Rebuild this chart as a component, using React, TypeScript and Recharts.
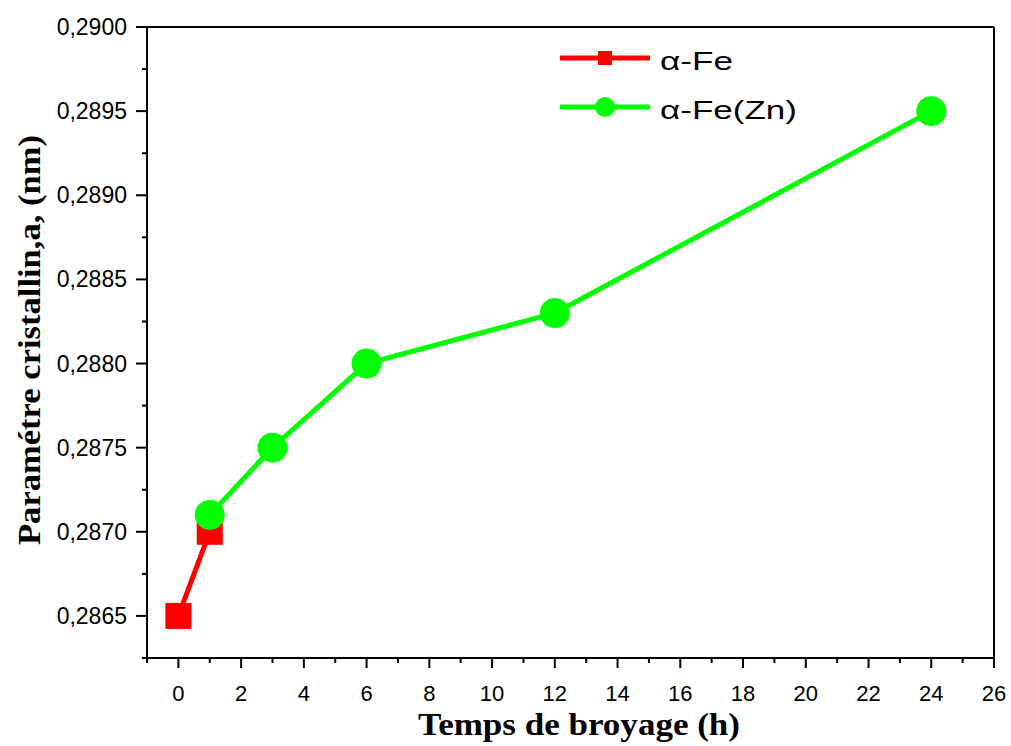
import { LineChart, Line, XAxis, YAxis, ReferenceLine } from 'recharts';

// α-Fe series
const feTimes = [0, 1];
const feValues = [0.2865, 0.287];

// α-Fe(Zn) series
const feZnTimes = [1, 3, 6, 12, 24];
const feZnValues = [0.2871, 0.2875, 0.288, 0.2883, 0.2895];

// axis ticks (majors at even index, minors at odd)
const xTicks = [-1, 0, 1, 2, 3, 4, 5, 6, 7, 8, 9, 10, 11, 12, 13, 14, 15, 16, 17, 18, 19, 20, 21, 22, 23, 24, 25, 26];
const yTicks = [0.28625, 0.2865, 0.28675, 0.287, 0.28725, 0.2875, 0.28775, 0.288, 0.28825, 0.2885, 0.28875, 0.289, 0.28925, 0.2895, 0.28975, 0.29];

const feData = feTimes.map((t, i) => ({ t, v: feValues[i] }));
const feZnData = feZnTimes.map((t, i) => ({ t, v: feZnValues[i] }));

const TICK_FONT = '"Liberation Sans", Arial, sans-serif';
const TITLE_FONT = '"Liberation Serif", "Times New Roman", serif';

const XTick = (props: any) => {
    const { x, y, payload } = props;
    const major = Math.round(payload.value) % 2 === 0;
    return (
        <g>
            <line x1={x} x2={x} y1={y} y2={y + (major ? 10 : 5)} stroke="#000" strokeWidth={2} />
            {major && (
                <text x={x} y={y + 43} textAnchor="middle" fontSize={22} fontFamily={TICK_FONT} fill="#000">
                    {payload.value}
                </text>
            )}
        </g>
    );
};

const YTick = (props: any) => {
    const { x, y, payload, index } = props;
    const major = index % 2 === 1;
    return (
        <g>
            <line x1={x} x2={x - (major ? 11 : 5)} y1={y} y2={y} stroke="#000" strokeWidth={2} />
            {major && (
                <text x={x - 20} y={y + 8} textAnchor="end" fontSize={23} fontFamily={TICK_FONT} fill="#000">
                    {payload.value.toFixed(4).replace('.', ',')}
                </text>
            )}
        </g>
    );
};

const Square = (props: any) => {
    const { cx, cy } = props;
    if (cx == null || cy == null) return null;
    return <rect x={cx - 13} y={cy - 13} width={26} height={26} fill="#ff0000" />;
};

const Circle = (props: any) => {
    const { cx, cy } = props;
    if (cx == null || cy == null) return null;
    return <circle cx={cx} cy={cy} r={15} fill="#00ff00" />;
};

// legend and axis titles, drawn over the chart
const Overlay = () => (
    <svg width={1011} height={746} style={{ position: 'absolute', left: 0, top: 0, pointerEvents: 'none' }}>
        <g transform="translate(560,40)">
            <line x1={0} x2={90} y1={18} y2={18} stroke="#ff0000" strokeWidth={5} />
            <rect x={38} y={11} width={14} height={14} fill="#ff0000" />
            <text x={100} y={30} fontSize={26} textLength={73} lengthAdjust="spacingAndGlyphs" fontFamily={TICK_FONT} fill="#000">α-Fe</text>
            <line x1={0} x2={90} y1={67} y2={67} stroke="#00ff00" strokeWidth={5} />
            <circle cx={45} cy={67} r={10} fill="#00ff00" />
            <text x={100} y={79} fontSize={26} textLength={137} lengthAdjust="spacingAndGlyphs" fontFamily={TICK_FONT} fill="#000">α-Fe(Zn)</text>
        </g>
        <text x={418} y={735} fontSize={31} fontWeight="bold" textLength={322} lengthAdjust="spacingAndGlyphs" fontFamily={TITLE_FONT} fill="#000">
            Temps de broyage (h)
        </text>
        <text
            transform="translate(40,545) rotate(-90)"
            x={0}
            y={0}
            fontSize={31}
            fontWeight="bold"
            textLength={410}
            lengthAdjust="spacingAndGlyphs"
            fontFamily={TITLE_FONT}
            fill="#000"
        >
            Paramétre cristallin,a, (nm)
        </text>
    </svg>
);

export default function App() {
    return (
        <div style={{ position: 'absolute', left: 0, top: 0, width: 1011, height: 746, background: '#fff' }}>
            <LineChart width={1011} height={746} margin={{ top: 27, right: 17, left: 0, bottom: 0 }}>
                <XAxis
                    dataKey="t"
                    type="number"
                    domain={[-1, 26]}
                    ticks={xTicks}
                    interval={0}
                    height={88}
                    tickSize={0}
                    tickMargin={0}
                    tickLine={false}
                    tick={<XTick />}
                    axisLine={{ stroke: '#000', strokeWidth: 2 }}
                    allowDuplicatedCategory={false}
                />
                <YAxis
                    type="number"
                    domain={[0.28625, 0.29]}
                    ticks={yTicks}
                    interval={0}
                    width={147}
                    tickSize={0}
                    tickMargin={0}
                    tickLine={false}
                    tick={<YTick />}
                    axisLine={{ stroke: '#000', strokeWidth: 2 }}
                />
                <ReferenceLine x={26} stroke="#000" strokeWidth={2} />
                <ReferenceLine y={0.29} stroke="#000" strokeWidth={2} />
                <Line
                    data={feData}
                    dataKey="v"
                    name="α-Fe"
                    stroke="#ff0000"
                    strokeWidth={5}
                    dot={<Square />}
                    activeDot={false}
                    isAnimationActive={false}
                />
                <Line
                    data={feZnData}
                    dataKey="v"
                    name="α-Fe(Zn)"
                    stroke="#00ff00"
                    strokeWidth={5}
                    dot={<Circle />}
                    activeDot={false}
                    isAnimationActive={false}
                />
            </LineChart>
            <Overlay />
        </div>
    );
}
